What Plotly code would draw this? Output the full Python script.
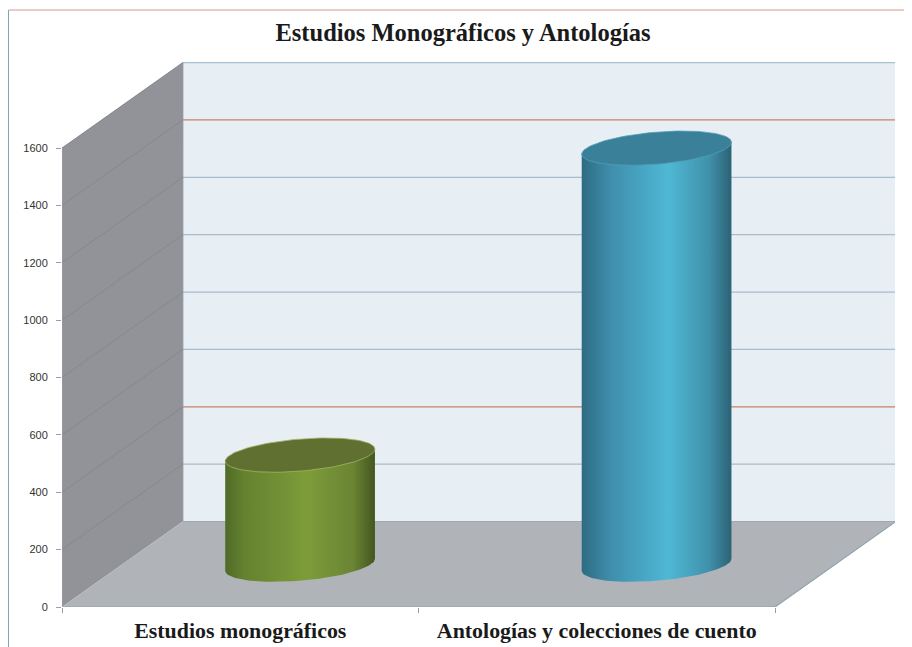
import numpy as np
import plotly.graph_objects as go

# --- data ---
categories = ["Estudios monográficos", "Antologías y colecciones de cuento"]
values = [382, 1452]
y_ticks = [0, 200, 400, 600, 800, 1000, 1200, 1400, 1600]
title_text = "Estudios Monográficos y Antologías"

# --- style ---
body_scales = [
    [[0, "#4f6a28"], [0.12, "#64812f"], [0.55, "#7d9c39"], [0.85, "#6b8534"], [1, "#44561f"]],
    [[0, "#2e6b82"], [0.2, "#3f8fad"], [0.58, "#4fb8d5"], [0.85, "#4091aa"], [1, "#2c6276"]],
]
cap_colors = ["#5f7031", "#3a8099"]
rim_colors = ["#a6b264", "#4f9fb8"]
grid_back = ["#a9bccb", "#a9bccb", "#c8806a", "#a9bccb", "#a9bccb", "#a9bccb", "#a9bccb", "#c8806a", "#a9c0d0"]
WALL, FLOOR, BACK = "#929398", "#b0b4b8", "#e7eef4"
AX = "#8fa3ae"

# --- pseudo-3D projection in data units ---
Y_TOP = 1900
X_MAX = 2.3366
DX, DY = 0.339, 298      # shift of the full depth
W = 0.21                 # cylinder radius in category units
TILT, B = 21, 56         # cap ellipse, in value units
MID = 0.495

fig = go.Figure()


def poly(xs, ys, color):
    fig.add_trace(go.Scatter(x=xs, y=ys, mode="lines", fill="toself", fillcolor=color,
                             line=dict(width=0), hoverinfo="skip", cliponaxis=False))


def line(xs, ys, color, width=1):
    fig.add_trace(go.Scatter(x=xs, y=ys, mode="lines", line=dict(color=color, width=width),
                             hoverinfo="skip", cliponaxis=False))


top = y_ticks[-1]
poly([DX, 2 + DX, 2 + DX, DX], [DY, DY, DY + top, DY + top], BACK)
poly([0, DX, DX, 0], [0, DY, DY + top, top], WALL)
poly([0, DX, 2 + DX, 2], [0, DY, DY, 0], FLOOR)

for v, c in zip(y_ticks[1:], grid_back[1:]):
    line([DX, 2 + DX], [DY + v, DY + v], c, 1.2)
    line([0, DX], [v, DY + v], "#85888e", 1)
line([DX, DX], [DY, DY + top], "#8b9299", 1)
line([DX, 2 + DX], [DY, DY], "#9fa8ae", 1)
line([0, 2, 2 + DX], [0, 0, DY], AX, 1.2)
line([0, 0], [0, top], "#9a9da2", 1)

t = np.linspace(0, 2 * np.pi, 121)
lower = t[:61]
for i, val in enumerate(values):
    cx = i + 0.5 + MID * DX
    base = MID * DY
    ex, ey = W * np.cos(t), TILT * np.cos(t) + B * np.sin(t)
    # silhouette: upper half of the cap's far side is covered by the cap trace
    lx, ly = W * np.cos(lower), TILT * np.cos(lower) - B * np.sin(lower)
    bx = np.concatenate([cx + lx, [cx - W, cx + W]])
    by = np.concatenate([base + ly, [base + val - TILT, base + val + TILT]])
    fig.add_trace(go.Scatter(x=bx, y=by, mode="lines", fill="toself", line=dict(width=0),
                             fillgradient=dict(type="horizontal", colorscale=body_scales[i]),
                             hoverinfo="skip", cliponaxis=False))
    fig.add_trace(go.Scatter(x=cx + ex, y=base + val + ey, mode="lines", fill="toself",
                             fillcolor=cap_colors[i], line=dict(color=rim_colors[i], width=0.8),
                             hoverinfo="skip", cliponaxis=False))

fig.update_layout(
    width=912, height=647, showlegend=False,
    margin=dict(l=54, r=25, t=54, b=48, pad=0),
    paper_bgcolor="white", plot_bgcolor="white",
    title=dict(text="<b>" + title_text + "</b>", x=455 / 912, xanchor="center", xref="container",
               y=1 - 24 / 647, yanchor="middle", yref="container", automargin=False,
               font=dict(family="Liberation Serif", size=24.5, color="#1a1a1a")),
    xaxis=dict(range=[0, X_MAX], showgrid=False, zeroline=False, showline=False, automargin=False,
               tickmode="array", tickvals=[0.5, 1.5], ticktext=["<b>" + c + "</b>" for c in categories],
               ticks="", ticklen=0, tickangle=0, ticklabelstandoff=8,
               tickfont=dict(family="Liberation Serif", size=21.9, color="#1a1a1a"),
               minor=dict(tickmode="array", tickvals=[0, 1, 2], ticks="outside", ticklen=5,
                          tickcolor=AX, tickwidth=1)),
    yaxis=dict(range=[0, Y_TOP], showgrid=False, zeroline=False, showline=False, automargin=False,
               tickmode="array", tickvals=y_ticks, ticktext=[str(v) for v in y_ticks],
               ticks="outside", ticklen=5, tickcolor=AX, tickwidth=1, ticklabelstandoff=6,
               tickfont=dict(family="Liberation Sans", size=11, color="#333333")),
    shapes=[
        dict(type="line", xref="paper", yref="paper", x0=-53.5 / 833, x1=860 / 833,
             y0=1 + 52 / 545, y1=1 + 52 / 545, line=dict(color="#d69a8c", width=1)),
        dict(type="line", xref="paper", yref="paper", x0=-53.5 / 833, x1=-53.5 / 833,
             y0=-48 / 545, y1=1 + 52 / 545, line=dict(color="#7fa6b5", width=1)),
    ],
)
fig.write_html("out.html")
